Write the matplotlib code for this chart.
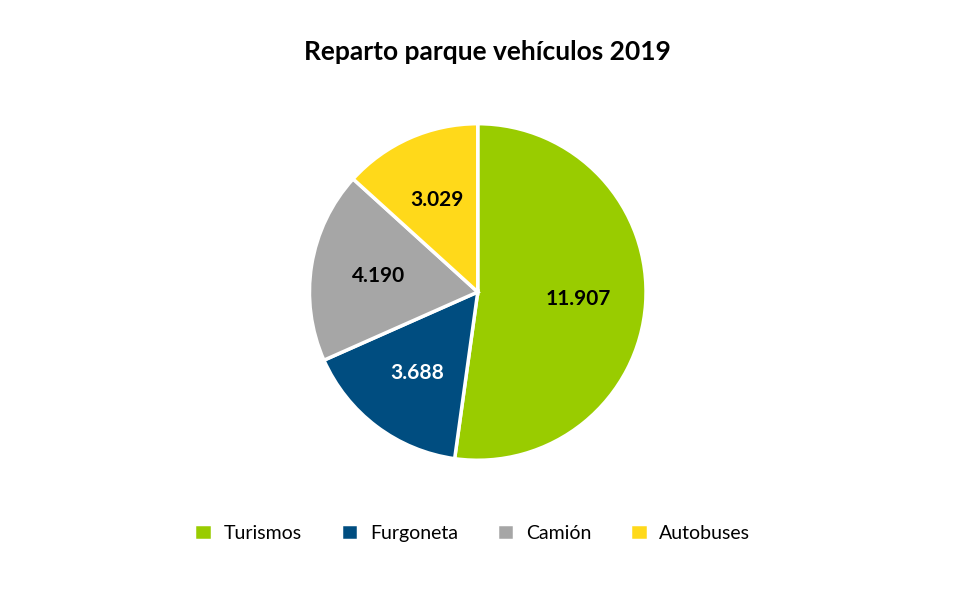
import numpy as np
import matplotlib.pyplot as plt

plt.rcParams['font.family'] = ['Lato', 'DejaVu Sans']

labels = ['Turismos', 'Furgoneta', 'Camión', 'Autobuses']
values = [11907, 3688, 4190, 3029]     # miles de vehiculos
colors = ['#99CC00', '#004D80', '#A6A6A6', '#FFD91A']
txtcol = ['black', 'white', 'black', 'black']

fig = plt.figure(figsize=(9.74, 6.16), dpi=100)
ax = fig.add_axes([0.316, 0.25, 0.349, 0.552])

wedges, texts = ax.pie(values, colors=colors, startangle=90, counterclock=False,
                       wedgeprops={'edgecolor': 'white', 'linewidth': 2.5})
ax.set_xlim(-1.01, 1.01)
ax.set_ylim(-1.01, 1.01)

for w, v, c in zip(wedges, values, txtcol):   # etiquetas dentro de cada sector
    ang = np.deg2rad((w.theta1 + w.theta2) / 2)
    ax.text(0.6 * np.cos(ang), 0.6 * np.sin(ang), f'{v/1000:.3f}',
            ha='center', va='center', fontsize=15, fontweight='bold', color=c)

fig.suptitle('Reparto parque vehículos 2019', y=0.935, fontsize=19, fontweight='bold')
fig.legend(wedges, labels, loc='center', bbox_to_anchor=(0.485, 0.135), ncol=4,
           frameon=False, fontsize=14, handlelength=0.9, handleheight=0.9,
           columnspacing=2.0, handletextpad=0.6)

plt.savefig('out.png')
